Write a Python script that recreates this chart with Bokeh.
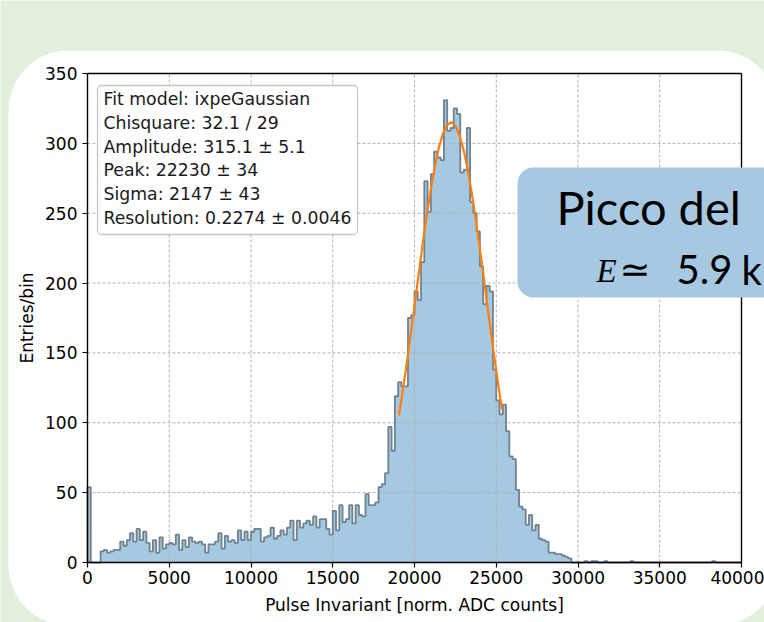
import numpy as np
from bokeh.plotting import figure
from bokeh.models import Range1d, LinearAxis, FixedTicker, BoxAnnotation, Label
from bokeh.embed import file_html
from bokeh.resources import INLINE

# ---------------- data ----------------
BIN_WIDTH = 200
COUNTS = [
    54, 0, 0, 0, 8, 9, 7, 8, 9, 9,
    15, 12, 16, 21, 15, 24, 16, 22, 14, 8,
    16, 7, 18, 10, 13, 14, 13, 20, 9, 16,
    11, 18, 15, 14, 15, 13, 7, 13, 13, 15,
    21, 10, 19, 15, 16, 14, 23, 16, 22, 16,
    22, 24, 24, 15, 18, 19, 25, 17, 19, 23,
    20, 25, 30, 16, 30, 25, 28, 30, 27, 33,
    25, 31, 31, 24, 20, 37, 23, 41, 29, 31,
    41, 28, 41, 34, 33, 49, 41, 41, 43, 54,
    56, 64, 97, 80, 119, 129, 126, 126, 175, 177,
    194, 188, 215, 273, 251, 278, 294, 290, 288, 331,
    309, 311, 325, 321, 279, 281, 311, 258, 250, 237,
    212, 185, 198, 194, 138, 116, 106, 113, 94, 76,
    74, 52, 40, 38, 27, 34, 23, 27, 17, 16,
    15, 7, 7, 6, 6, 5, 4, 3, 0, 0,
    0, 0, 1, 0, 1, 1, 0, 0, 1, 0,
    0, 0, 0, 0, 0, 0, 1, 0, 0, 0,
    0, 0, 0, 0, 0, 0, 0, 0, 0, 0,
    0, 0, 0, 0, 0, 0, 0, 0, 0, 0,
    0, 1, 0, 0, 0, 0, 0, 0, 0, 0,
]

FIT_X = [19050, 19250, 19500, 19750, 20000, 20250, 20500, 20750, 21000, 21250,
         21500, 21750, 22000, 22250, 22500, 22750, 23000, 23250, 23500, 23750,
         24000, 24250, 24500, 24750, 25000, 25250, 25350]
FIT_Y = [105.2, 120.3, 140.4, 161.7, 183.7, 205.9, 227.8, 248.5, 267.4, 283.9,
         297.4, 307.3, 313.3, 315.1, 312.6, 306.0, 295.5, 281.5, 264.5, 245.2,
         224.3, 202.4, 180.2, 158.2, 137.1, 117.2, 109.6]

X_TICKS = [0, 5000, 10000, 15000, 20000, 25000, 30000, 35000, 40000]
Y_TICKS = [0, 50, 100, 150, 200, 250, 300, 350]

FIT_TEXT = [
    "Fit model: ixpeGaussian",
    "Chisquare: 32.1 / 29",
    "Amplitude: 315.1 \u00b1 5.1",
    "Peak: 22230 \u00b1 34",
    "Sigma: 2147 \u00b1 43",
    "Resolution: 0.2274 \u00b1 0.0046",
]

X_LABEL = "Pulse Invariant [norm. ADC counts]"
Y_LABEL = "Entries/bin"

# ---------------- layout (page pixels) ----------------
W, H = 764, 622
FL, FR, FT, FB = 87, 741, 73, 562      # where the axes box sits on the page
XMAX, YMAX = 40000, 350


def dx(px):
    return (px - FL) / (FR - FL) * XMAX


def dy(py):
    return (FB - py) / (FB - FT) * YMAX


GREEN = "#e2efda"
p = figure(width=W, height=H, output_backend="svg", toolbar_location=None,
           title=None, x_axis_type=None, y_axis_type=None,
           x_range=Range1d(dx(0), dx(W)), y_range=Range1d(dy(H), dy(0)),
           min_border=0, min_border_left=0, min_border_right=0,
           min_border_top=0, min_border_bottom=0,
           border_fill_color=GREEN, background_fill_color=GREEN,
           outline_line_color=None)

# slide white panel
p.add_layout(BoxAnnotation(left=dx(8), right=dx(777), top=dy(50), bottom=dy(625),
                           fill_color="white", fill_alpha=1, line_color=None,
                           border_radius=60, level="image"))

# histogram fill
edges = np.arange(len(COUNTS) + 1) * BIN_WIDTH
counts = np.array(COUNTS, dtype=float)
p.varea_step(x=edges, y1=np.zeros(len(edges)), y2=np.append(counts, counts[-1]),
             step_mode="after", fill_color="#a5c9e1", fill_alpha=1)

# grid (above the fill, like matplotlib)
p.segment(x0=X_TICKS, y0=[0] * len(X_TICKS), x1=X_TICKS, y1=[YMAX] * len(X_TICKS),
          line_color="#b0b0b0", line_dash="3 2", line_width=1)
p.segment(x0=[0] * len(Y_TICKS), y0=Y_TICKS, x1=[XMAX] * len(Y_TICKS), y1=Y_TICKS,
          line_color="#b0b0b0", line_dash="3 2", line_width=1)

# histogram outline
ox = np.repeat(edges, 2)
oy = np.concatenate([[0], np.repeat(counts, 2), [0]])
p.line(ox, oy, line_color="#6c7c89", line_width=1.8, line_alpha=0.95)

# fit
p.line(FIT_X, FIT_Y, line_color="#ff7f0e", line_width=2.2)

# top / right spines
p.segment(x0=[0, XMAX], y0=[YMAX, 0], x1=[XMAX, XMAX], y1=[YMAX, YMAX],
          line_color="black", line_width=1.4)

# axes drawn at the data origin
xaxis = LinearAxis(fixed_location=0, bounds=(0, XMAX), ticker=FixedTicker(ticks=X_TICKS),
                   axis_label=X_LABEL)
yaxis = LinearAxis(fixed_location=0, bounds=(0, YMAX), ticker=FixedTicker(ticks=Y_TICKS),
                   axis_label=Y_LABEL)
for ax in (xaxis, yaxis):
    ax.major_label_text_font = "DejaVu Sans"
    ax.major_label_text_font_size = "17px"
    ax.major_label_text_color = "black"
    ax.major_tick_out = 5
    ax.major_tick_in = 0
    ax.major_tick_line_color = "black"
    ax.major_tick_line_width = 1.2
    ax.minor_tick_line_color = None
    ax.axis_line_color = "black"
    ax.axis_line_width = 1.4
    ax.axis_label_text_font = "DejaVu Sans"
    ax.axis_label_text_font_size = "17px"
    ax.axis_label_text_font_style = "normal"
    ax.axis_label_text_color = "black"
xaxis.major_label_standoff = 3
xaxis.axis_label_standoff = 8
yaxis.major_label_standoff = 5
yaxis.axis_label_standoff = 5
p.add_layout(xaxis, "below")
p.add_layout(yaxis, "left")

# fit-result box
p.add_layout(BoxAnnotation(left=dx(97), right=dx(357), top=dy(85), bottom=dy(234),
                           fill_color="white", fill_alpha=1, line_color="#4a4a4a",
                           line_width=1.3, border_radius=4, level="annotation"))
for i, t in enumerate(FIT_TEXT):
    p.add_layout(Label(x=dx(103), y=dy(98.5 + 23.8 * i), text=t,
                       text_font="DejaVu Sans", text_font_size="17.3px",
                       text_color="#1a1a1a", text_baseline="middle",
                       level="annotation"))

# slide callout
p.add_layout(BoxAnnotation(left=dx(517), right=dx(805), top=dy(167), bottom=dy(297),
                           fill_color="#a6c8e0", fill_alpha=1, line_color=None,
                           border_radius=16, level="overlay"))
p.add_layout(Label(x=dx(556), y=dy(206), text="Picco del", text_font="Lato",
                   text_font_size="47px", text_color="black",
                   text_baseline="middle", level="overlay"))
p.add_layout(Label(x=dx(596), y=dy(270), text="E", text_font="Liberation Serif",
                   text_font_style="italic", text_font_size="33px", text_color="black",
                   text_baseline="middle", level="overlay"))
p.add_layout(Label(x=dx(619), y=dy(269), text="\u2243", text_font="DejaVu Sans",
                   text_font_size="37px", text_color="black",
                   text_baseline="middle", level="overlay"))
p.add_layout(Label(x=dx(676), y=dy(269), text="5.9", text_font="Lato",
                   text_font_size="40px", text_color="black",
                   text_baseline="middle", level="overlay"))
p.add_layout(Label(x=dx(741), y=dy(269), text="k", text_font="Lato",
                   text_font_size="40px", text_color="black",
                   text_baseline="middle", level="overlay"))

# fragment of the slide title (only the tail of the descender is on the page);
# an empty second line keeps the label's box on the canvas
p.add_layout(Label(x=dx(613), y=dy(50), text="g\n ", text_font="Lato",
                   text_font_size="56px", text_color="black",
                   text_baseline="bottom", level="overlay"))

open("out.html", "w").write(file_html(p, INLINE))
